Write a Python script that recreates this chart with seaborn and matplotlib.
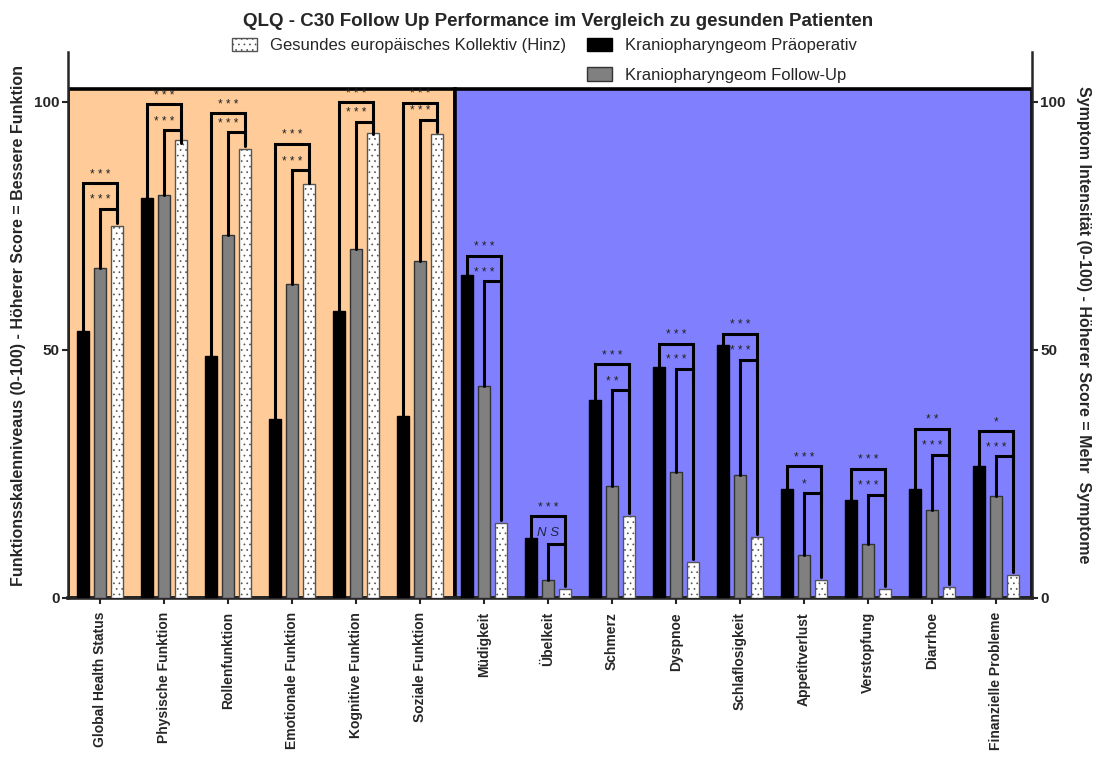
import matplotlib
matplotlib.use("Agg")
import matplotlib.pyplot as plt
import matplotlib.patches as mpatches
import seaborn as sns
import pandas as pd
import numpy as np

# ---------------- data ----------------
categories = ["Global Health Status", "Physische Funktion", "Rollenfunktion",
              "Emotionale Funktion", "Kognitive Funktion", "Soziale Funktion",
              "Müdigkeit", "Übelkeit", "Schmerz", "Dyspnoe", "Schlaflosigkeit",
              "Appetitverlust", "Verstopfung", "Diarrhoe", "Finanzielle Probleme"]
n_function_scales = 6

series_names = ["Kraniopharyngeom Präoperativ", "Kraniopharyngeom Follow-Up",
                "Gesundes europäisches Kollektiv (Hinz)"]
praeoperativ = [53.8, 80.5, 48.8, 36.0, 57.8, 36.6,
                65.1, 12.0, 39.9, 46.5, 50.9, 22.0, 19.8, 22.0, 26.5]
follow_up = [66.4, 81.2, 73.1, 63.2, 70.3, 67.9,
             42.7, 3.6, 22.6, 25.3, 24.8, 8.7, 10.9, 17.7, 20.6]
gesund = [75.0, 92.2, 90.5, 83.5, 93.6, 93.5,
          15.2, 1.9, 16.5, 7.2, 12.2, 3.6, 1.9, 2.3, 4.6]

outer_bracket = [83.6, 99.5, 97.7, 91.5, 99.9, 99.8,
                 69.0, 16.5, 47.1, 51.2, 53.2, 26.5, 26.0, 34.1, 33.7]
inner_bracket = [78.4, 94.2, 93.8, 86.2, 96.0, 96.4,
                 63.8, 10.9, 41.9, 46.2, 48.0, 21.2, 20.8, 28.9, 28.6]
outer_sig = ["* * *"] * 11 + ["* * *", "* * *", "* *", "*"]
inner_sig = ["* * *"] * 6 + ["* * *", "NS", "* *", "* * *", "* * *",
                             "*", "* * *", "* * *", "* * *"]

yticks = [0, 50, 100]
title = "QLQ - C30 Follow Up Performance im Vergleich zu gesunden Patienten"
ylabel_left = "Funktionsskalenniveaus (0-100) - Höherer Score = Bessere Funktion"
ylabel_right = "Symptom Intensität (0-100) - Höherer Score = Mehr  Symptome"

# ---------------- style ----------------
sns.set_style("ticks")
plt.rcParams["font.family"] = ["Liberation Sans", "DejaVu Sans"]
plt.rcParams["hatch.color"] = "#b4b4b4"
plt.rcParams["hatch.linewidth"] = 0.5

col_black = "#000000"
col_gray = "#808080"
col_white = "#ffffff"
col_orange = "#ffcc99"
col_blue = "#8080ff"

df = pd.DataFrame({
    "Kategorie": categories * 3,
    "Wert": praeoperativ + follow_up + gesund,
    "Gruppe": [series_names[0]] * len(categories)
              + [series_names[1]] * len(categories)
              + [series_names[2]] * len(categories),
})

fig = plt.figure(figsize=(11, 7.74), dpi=100)
ax = fig.add_axes([0.0618, 0.2274, 0.938 - 0.0618, 0.9328 - 0.2274])

sns.barplot(data=df, x="Kategorie", y="Wert", hue="Gruppe",
            hue_order=series_names, order=categories,
            palette=[col_black, col_gray, col_white],
            width=0.8, gap=0.3, legend=False, ax=ax,
            edgecolor="#333333", linewidth=1.0, saturation=1, zorder=3)

for bar in ax.containers[2]:
    bar.set_hatch("...")
    bar.set_edgecolor("#555555")
for bar in ax.containers[0]:
    bar.set_edgecolor("#000000")

n = len(categories)
xmin, xmax = -0.5, n - 0.44
box_top = 102.5
split = n_function_scales - 0.45
ax.add_patch(mpatches.Rectangle((xmin, 0), split - xmin, box_top,
                                facecolor=col_orange, edgecolor="black",
                                linewidth=2.6, zorder=1))
ax.add_patch(mpatches.Rectangle((split, 0), xmax - split, box_top,
                                facecolor=col_blue, edgecolor="black",
                                linewidth=2.6, zorder=1))

# significance brackets
off = 0.8 / 3
lw = 2.2
for i in range(n):
    xb, xg, xw = i - off, i, i + off
    ho, hi = outer_bracket[i], inner_bracket[i]
    ax.plot([xb, xb, xw, xw], [praeoperativ[i], ho, ho, hi - 2.5],
            color="black", lw=lw, solid_joinstyle="miter", zorder=4)
    ax.plot([xg, xg, xw, xw], [follow_up[i], hi, hi, gesund[i] + 0.6],
            color="black", lw=lw, solid_joinstyle="miter", zorder=4)
    ax.text(xg, ho + 0.5, outer_sig[i], ha="center", va="bottom",
            fontsize=8.5, color="#222222", zorder=5)
    if inner_sig[i] == "NS":
        ax.text(xg, hi + 0.9, "N S", ha="center", va="bottom",
                fontsize=9.5, style="italic", color="#222244", zorder=5)
    else:
        ax.text(xg, hi + 0.5, inner_sig[i], ha="center", va="bottom",
                fontsize=8.5, color="#222222", zorder=5)

ax.set_xlim(xmin, xmax)
ax.set_ylim(0, 110)
ax.set_yticks(yticks)
ax.set_yticklabels([str(t) for t in yticks], fontsize=11, fontweight="bold")
ax.set_xticks(range(n))
ax.set_xticklabels(categories, rotation=90, fontsize=10, fontweight="bold")
ax.tick_params(axis="x", length=4, width=1.5, pad=6)
ax.tick_params(axis="y", length=4, width=1.5, pad=2)
ax.set_xlabel("")
ax.set_ylabel(ylabel_left, fontsize=11.5, fontweight="bold", labelpad=6)
ax.spines["top"].set_visible(False)
ax.spines["left"].set_linewidth(1.8)
ax.spines["right"].set_visible(False)
ax.spines["bottom"].set_linewidth(2.6)

ax2 = ax.twinx()
ax2.set_ylim(0, 110)
ax2.set_yticks(yticks)
ax2.set_yticklabels([str(t) for t in yticks], fontsize=11, fontweight="bold")
ax2.tick_params(axis="y", length=4, width=1.5, pad=2)
ax2.spines["top"].set_visible(False)
ax2.spines["left"].set_visible(False)
ax2.spines["bottom"].set_visible(False)
ax2.spines["right"].set_linewidth(1.8)
ax2.set_ylabel(ylabel_right, fontsize=11.5, fontweight="bold",
               rotation=270, labelpad=18)

fig.text(0.507, 0.972, title, ha="center", va="center",
         fontsize=13.5, fontweight="bold")

# legend
h_black = mpatches.Patch(facecolor=col_black, edgecolor="black", lw=1)
h_gray = mpatches.Patch(facecolor=col_gray, edgecolor="#333333", lw=1)
h_white = mpatches.Patch(facecolor=col_white, edgecolor="#555555", lw=1,
                         hatch="...")
h_blank = mpatches.Patch(facecolor="none", edgecolor="none")
leg = ax2.legend([h_white, h_blank, h_black, h_gray],
                 [series_names[2], "", series_names[0], series_names[1]],
                 ncol=2, loc="center", bbox_to_anchor=(0.495, 0.922),
                 bbox_transform=fig.transFigure, frameon=False,
                 fontsize=12, handlelength=1.5, handleheight=0.9,
                 labelspacing=0.85, columnspacing=1.2, handletextpad=0.8)

fig.savefig("out.png", dpi=100)
